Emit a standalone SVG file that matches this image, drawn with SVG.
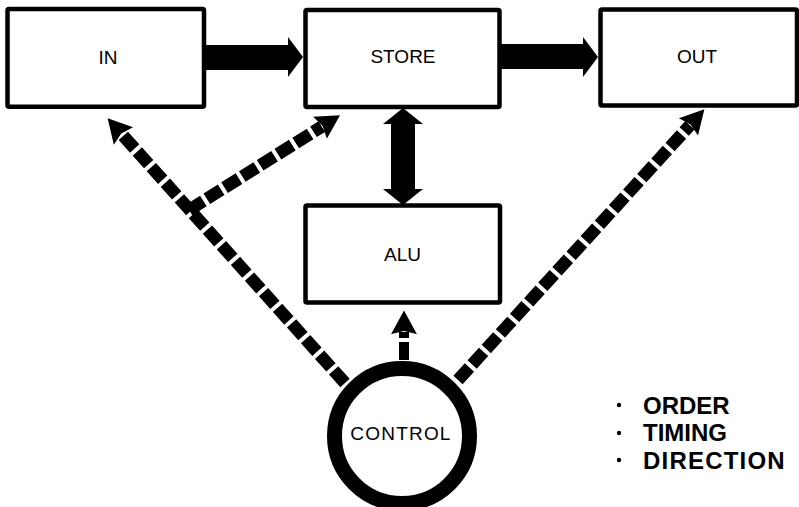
<svg xmlns="http://www.w3.org/2000/svg" width="799" height="507" viewBox="0 0 799 507">
  <style>
    .box { fill: #fff; stroke: #000; stroke-width: 4.5; }
    .label { font-family: "Liberation Sans", Arial, sans-serif; font-size: 19px; fill: #000; text-anchor: middle; }
    .list { font-family: "Liberation Sans", Arial, sans-serif; font-size: 24px; font-weight: bold; fill: #000; }
    .bus { fill: #000; stroke: none; }
    .ctl { fill: none; stroke: #000; stroke-width: 12.5; stroke-dasharray: 17 4; }
    .ctl-v { fill: none; stroke: #000; stroke-width: 10; stroke-dasharray: 18 4; }
  </style>
  <defs>
    <marker id="ctlHead" markerUnits="userSpaceOnUse" markerWidth="26" markerHeight="28" viewBox="0 -13 24 26" refX="2" refY="0" orient="auto">
      <path d="M0,-12 L22,0 L0,12 L3,0 Z" fill="#000"/>
    </marker>
  </defs>

  <rect width="799" height="507" fill="#fff"/>

  <!-- connectors -->
  <g id="connectors">
    <!-- data paths -->
    <polygon class="bus" points="206,45 288,45 288,37 303,57 288,77 288,70 206,70"/>
    <polygon class="bus" points="499,44 583,44 583,37 598,57 583,77 583,69 499,69"/>
    <polygon class="bus" points="403,108 423,124 415,124 415,189 423,189 403,205 383,189 391,189 391,124 383,124"/>
    <!-- control paths -->
    <line class="ctl" x1="345" y1="383" x2="122" y2="134.4" marker-end="url(#ctlHead)"/>
    <line class="ctl" x1="189" y1="210" x2="321.8" y2="126.6" marker-end="url(#ctlHead)"/>
    <line class="ctl" x1="458" y1="380" x2="689.9" y2="125.3" marker-end="url(#ctlHead)"/>
    <line class="ctl-v" x1="404" y1="360" x2="404" y2="332" marker-end="url(#ctlHead)"/>
  </g>

  <g id="in">
    <rect class="box" x="7.5" y="9" width="196.5" height="97.7" rx="1.5"/>
    <text class="label" x="108" y="64">IN</text>
  </g>

  <g id="store">
    <rect class="box" x="305.5" y="10" width="194" height="97" rx="1.5"/>
    <text class="label" x="403" y="63">STORE</text>
  </g>

  <g id="out">
    <rect class="box" x="600.5" y="9.5" width="196.5" height="96" rx="1.5"/>
    <text class="label" x="697" y="63">OUT</text>
  </g>

  <g id="alu">
    <rect class="box" x="305.5" y="205.5" width="194.5" height="97" rx="1.5"/>
    <text class="label" x="402.5" y="261">ALU</text>
  </g>

  <g id="control">
    <circle cx="402" cy="436" r="67.5" fill="#fff" stroke="#000" stroke-width="15"/>
    <text class="label" x="401" y="440" font-size="18" letter-spacing="1.2">CONTROL</text>
  </g>

  <g id="functions">
    <circle cx="619" cy="405" r="2.2" fill="#000"/>
    <circle cx="619" cy="433" r="2.2" fill="#000"/>
    <circle cx="619" cy="460" r="2.2" fill="#000"/>
    <text class="list" x="643" y="414">ORDER</text>
    <text class="list" x="643" y="441">TIMING</text>
    <text class="list" x="643" y="469" letter-spacing="1.2">DIRECTION</text>
  </g>
</svg>
